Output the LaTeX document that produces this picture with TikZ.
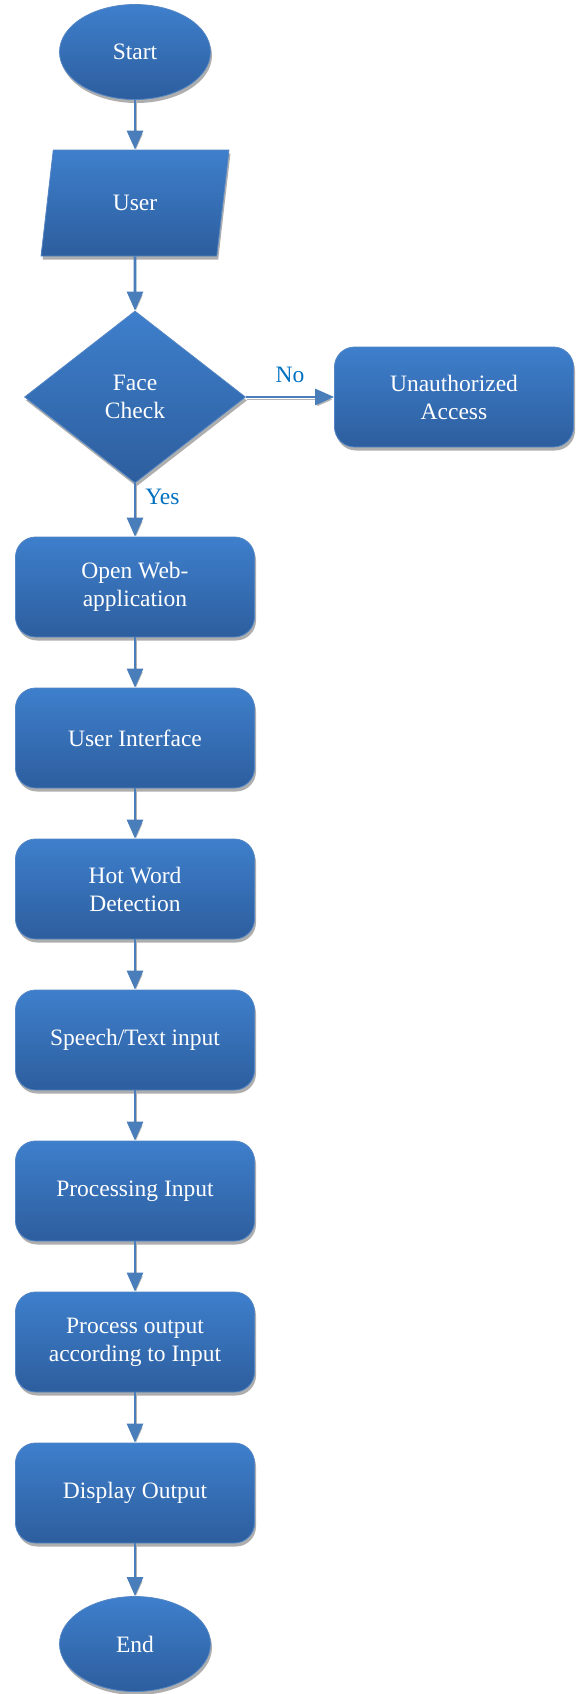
\documentclass[tikz,border=0pt]{standalone}
\usepackage{fontspec}
\setmainfont{Liberation Serif}
\usetikzlibrary{shapes.geometric,arrows.meta,shadows}

\definecolor{boxtop}{RGB}{62,127,204}
\definecolor{boxbottom}{RGB}{45,94,158}
\definecolor{boxline}{RGB}{84,134,196}
\definecolor{flowline}{RGB}{74,126,187}
\definecolor{labelblue}{RGB}{0,112,192}

\tikzset{
  flowshape/.style={top color=boxtop, bottom color=boxbottom, draw=boxline, line width=0.8pt,
    text=white, align=center, inner sep=0pt,
    drop shadow={shadow xshift=1.5pt, shadow yshift=-3.5pt, fill=black!45, opacity=0.7}},
  procbox/.style={flowshape, rectangle, rounded corners=20pt, minimum width=239pt, minimum height=100pt},
  termnode/.style={flowshape, ellipse, minimum width=151pt, minimum height=95pt},
  iobox/.style={flowshape, trapezium, trapezium left angle=78, trapezium right angle=102,
    trapezium stretches=true, minimum width=188pt, minimum height=106pt},
  decision/.style={flowshape, diamond, minimum width=221pt, minimum height=172pt},
  flowarrow/.style={draw=flowline, line width=2.7pt, -{Triangle[width=16pt,length=19pt]},
    preaction={draw=black!30, transform canvas={xshift=1pt,yshift=-2.5pt}}},
  answer/.style={text=labelblue, inner sep=0pt}
}

\begin{document}
\begin{tikzpicture}[x=1pt, y=1pt, font=\fontsize{23.5pt}{28pt}\selectfont, node distance=151pt]
  \useasboundingbox (0,0) rectangle (577,-1694);
  \node[termnode] (start) at (135,-52) {Start};
  \node[iobox] (user) [below of=start] {User};
  \node[decision] (facecheck) [below of=user, node distance=194pt] {Face\\Check};
  \node[procbox] (unauth) [right of=facecheck, node distance=319pt] {Unauthorized\\Access};
  \node[procbox] (openweb) [below of=facecheck, node distance=190pt] {Open Web-\\application};
  \node[procbox] (ui) [below of=openweb] {User Interface};
  \node[procbox] (hotword) [below of=ui] {Hot Word\\Detection};
  \node[procbox] (speech) [below of=hotword] {Speech/Text input};
  \node[procbox] (procin) [below of=speech] {Processing Input};
  \node[procbox] (procout) [below of=procin] {Process output\\according to Input};
  \node[procbox] (display) [below of=procout] {Display Output};
  \node[termnode] (end) [below of=display] {End};
  \path
    (start) edge[flowarrow] (user)
    (user) edge[flowarrow] (facecheck)
    (facecheck) edge[flowarrow] node[answer, above=13pt] {No} (unauth)
    (facecheck) edge[flowarrow] node[answer, right=9pt, pos=0.26] {Yes} (openweb)
    (openweb) edge[flowarrow] (ui)
    (ui) edge[flowarrow] (hotword)
    (hotword) edge[flowarrow] (speech)
    (speech) edge[flowarrow] (procin)
    (procin) edge[flowarrow] (procout)
    (procout) edge[flowarrow] (display)
    (display) edge[flowarrow] (end)
    ;
\end{tikzpicture}
\end{document}
